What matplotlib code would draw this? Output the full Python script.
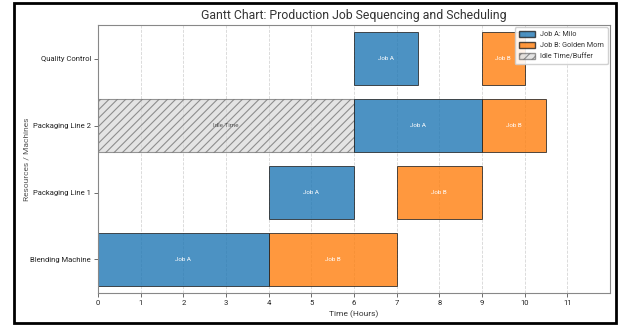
import matplotlib.pyplot as plt
from matplotlib.patches import Patch, Rectangle

plt.rcParams['font.family'] = ['Roboto', 'DejaVu Sans']
plt.rcParams['hatch.linewidth'] = 0.8

resources = ['Blending Machine', 'Packaging Line 1', 'Packaging Line 2', 'Quality Control']

# (resource index, start, duration)
job_a = [(0, 0, 4), (1, 4, 2), (2, 6, 3), (3, 6, 1.5)]
job_b = [(0, 4, 3), (1, 7, 2), (2, 9, 1.5), (3, 9, 1)]
idle = [(2, 0, 6)]

color_a = '#1f77b4'
color_b = '#ff7f0e'

fig = plt.figure(figsize=(6.18, 3.27), dpi=100)
ax = fig.add_axes([0.1586, 0.104, 0.8284, 0.8195])

bar_h = 0.8

for r, s, d in idle:
    ax.barh(r, d, left=s, height=bar_h, color='lightgray', edgecolor='#555555',
            hatch='////', alpha=0.6, linewidth=0.8)
    ax.text(s + d / 2, r, 'Idle Time', ha='center', va='center', fontsize=4.5, color='#555555')

for r, s, d in job_a:
    ax.barh(r, d, left=s, height=bar_h, color=color_a, edgecolor='#222222',
            alpha=0.8, linewidth=0.7)
    ax.text(s + d / 2, r, 'Job A', ha='center', va='center', fontsize=4.5, color='white')

for r, s, d in job_b:
    ax.barh(r, d, left=s, height=bar_h, color=color_b, edgecolor='#222222',
            alpha=0.8, linewidth=0.7)
    ax.text(s + d / 2, r, 'Job B', ha='center', va='center', fontsize=4.5, color='white')

ax.set_yticks(range(len(resources)))
ax.set_yticklabels(resources)
ax.set_xticks(range(0, 12))
ax.set_xlim(0, 12)
ax.set_ylim(-0.5, 3.5)
ax.tick_params(labelsize=5.5, length=3, width=0.6, color='#555555', labelcolor='#222222', pad=2)
for sp in ax.spines.values():
    sp.set_color('#888888')
    sp.set_linewidth(0.8)

ax.grid(axis='x', linestyle='--', color='#cccccc', alpha=0.8, linewidth=0.6)
ax.set_axisbelow(True)

ax.set_xlabel('Time (Hours)', fontsize=6, color='#333333', labelpad=3)
ax.set_ylabel('Resources / Machines', fontsize=6, color='#555555', labelpad=0.5)
ax.set_title('Gantt Chart: Production Job Sequencing and Scheduling', fontsize=8.8, color='#333333', pad=4)

handles = [
    Patch(facecolor=color_a, edgecolor='#222222', alpha=0.8, label='Job A: Milo'),
    Patch(facecolor=color_b, edgecolor='#222222', alpha=0.8, label='Job B: Golden Morn'),
    Patch(facecolor='lightgray', edgecolor='#555555', hatch='////', alpha=0.6, label='Idle Time/Buffer'),
]
leg = ax.legend(handles=handles, loc='upper right', fontsize=5.2, framealpha=0.9,
                handlelength=2.2, handleheight=0.9, borderpad=0.5, labelspacing=0.5,
                borderaxespad=0.3)
for t in leg.get_texts():
    t.set_color('#333333')

fig.patches.append(Rectangle((14 / 618, 1 - 323 / 327), 602 / 618, 320 / 327,
                             transform=fig.transFigure, fill=False,
                             edgecolor='black', linewidth=2))

fig.savefig('out.png', dpi=100)
